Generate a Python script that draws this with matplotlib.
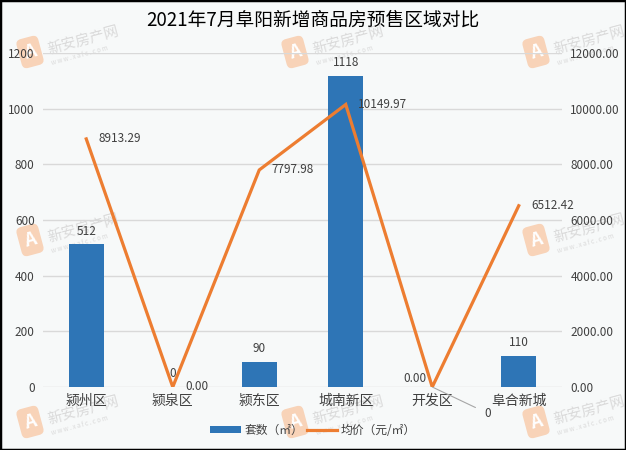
import matplotlib
matplotlib.use("Agg")
import matplotlib.pyplot as plt
from matplotlib.patches import Rectangle, Patch
from matplotlib.lines import Line2D
import numpy as np

plt.rcParams["font.family"] = ["Noto Sans CJK SC", "DejaVu Sans"]

districts = ["颍州区", "颍泉区", "颍东区", "城南新区", "开发区", "阜合新城"]
units = [512, 0, 90, 1118, 0, 110]
avg_price = [8913.29, 0.00, 7797.98, 10149.97, 0.00, 6512.42]

title = "2021年7月阜阳新增商品房预售区域对比"
bar_name = "套数（㎡）"
line_name = "均价（元/㎡）"

bar_color = "#2e75b6"
line_color = "#ed7d31"
text_color = "#404040"
bg = "#f7f9f9"

W, H = 626, 450
fig = plt.figure(figsize=(W / 100, H / 100), dpi=100, facecolor=bg)


def px(x, y):
    # pixel position (from top-left) -> figure fraction
    return x / W, 1 - y / H


ax = fig.add_axes([43 / W, 1 - 387 / H, (562 - 43) / W, (387 - 53) / H])
ax.set_facecolor("none")
ax2 = ax.twinx()

x = np.arange(len(districts))
ax.bar(x, units, width=0.4, color=bar_color, zorder=2)
ax2.plot(x, avg_price, color=line_color, linewidth=2.3, zorder=3,
         solid_joinstyle="miter")

ax.set_xlim(-0.5, len(districts) - 0.5)
ax.set_ylim(0, 1200)
ax.set_yticks(np.arange(0, 1201, 200))
ax2.set_ylim(0, 12000)
ax2.set_yticks(np.arange(0, 12001, 2000))
ax2.set_yticklabels([f"{v:.2f}" for v in np.arange(0, 12001, 2000)])

ax.set_xticks(x)
ax.set_xticklabels(districts, fontsize=10, color=text_color)
ax.grid(axis="y", color="#d9d9d9", linewidth=1, zorder=0)
ax.set_axisbelow(True)
for a in (ax, ax2):
    for s in a.spines.values():
        s.set_visible(False)
    a.tick_params(length=0, labelsize=8.5, labelcolor=text_color)
ax.tick_params(axis="y", pad=6)
ax.tick_params(axis="x", pad=5, labelsize=10)
ax2.tick_params(axis="y", pad=6)

# bar labels
for i, v in enumerate(units):
    if i == 4:
        continue
    ax.annotate(str(v), (i, v), xytext=(0, 5), textcoords="offset points",
                ha="center", va="bottom", fontsize=8.5, color=text_color)
# the 开发区 zero label sits below with a leader line
ax.annotate(str(units[4]), (4, 0), xytext=(40, -19), textcoords="offset points",
            ha="center", va="center", fontsize=8.5, color=text_color,
            arrowprops=dict(arrowstyle="-", color="#a6a6a6", lw=0.8,
                            shrinkA=5, shrinkB=0),
            annotation_clip=False)

# line labels
for i, v in enumerate(avg_price):
    if i == 4:
        ax2.annotate(f"{v:.2f}", (i, v), xytext=(-4, 6), textcoords="offset points",
                     ha="right", va="center", fontsize=8.5, color=text_color)
    else:
        ax2.annotate(f"{v:.2f}", (i, v), xytext=(9, 0), textcoords="offset points",
                     ha="left", va="center", fontsize=8.5, color=text_color)

fig.text(0.5, px(0, 20)[1], title, ha="center", va="center", fontsize=13.5,
         color="black")

handles = [Patch(facecolor=bar_color), Line2D([0], [0], color=line_color, lw=2.3)]
fig.legend(handles, [bar_name, line_name], loc="center",
           bbox_to_anchor=px(313, 430), ncol=2, frameon=False, fontsize=8.5,
           handlelength=2.6, handleheight=0.6, columnspacing=0.3,
           handletextpad=0.3, labelcolor=text_color)

# watermarks (behind the plot)
marks = [(30, 52), (295, 52), (536, 52), (30, 240), (536, 240),
         (30, 422), (295, 422), (536, 422)]
for mx, my in marks:
    fx, fy = px(mx, my)
    fig.text(fx, fy, "A", ha="center", va="center", fontsize=13, color="white",
             style="italic", weight="bold", rotation=15, zorder=-1,
             bbox=dict(boxstyle="round,pad=0.3", facecolor="#f8d3b8",
                       edgecolor="none"))
    tx, ty = px(mx + 16, my - 11)
    fig.text(tx, ty, "新安房产网", ha="left", va="center", fontsize=10.5,
             color="#dadada", rotation=15, zorder=-1)
    sx, sy = px(mx + 20, my + 3)
    fig.text(sx, sy, "w w w . x a f c . c o m", ha="left", va="center",
             fontsize=4.5, color="#dadada", rotation=15, zorder=-1)

fig.patches.append(Rectangle((0, 0), 1, 1, transform=fig.transFigure,
                             fill=False, edgecolor="black", linewidth=2.5))

fig.savefig("out.png", dpi=100, facecolor=bg)
